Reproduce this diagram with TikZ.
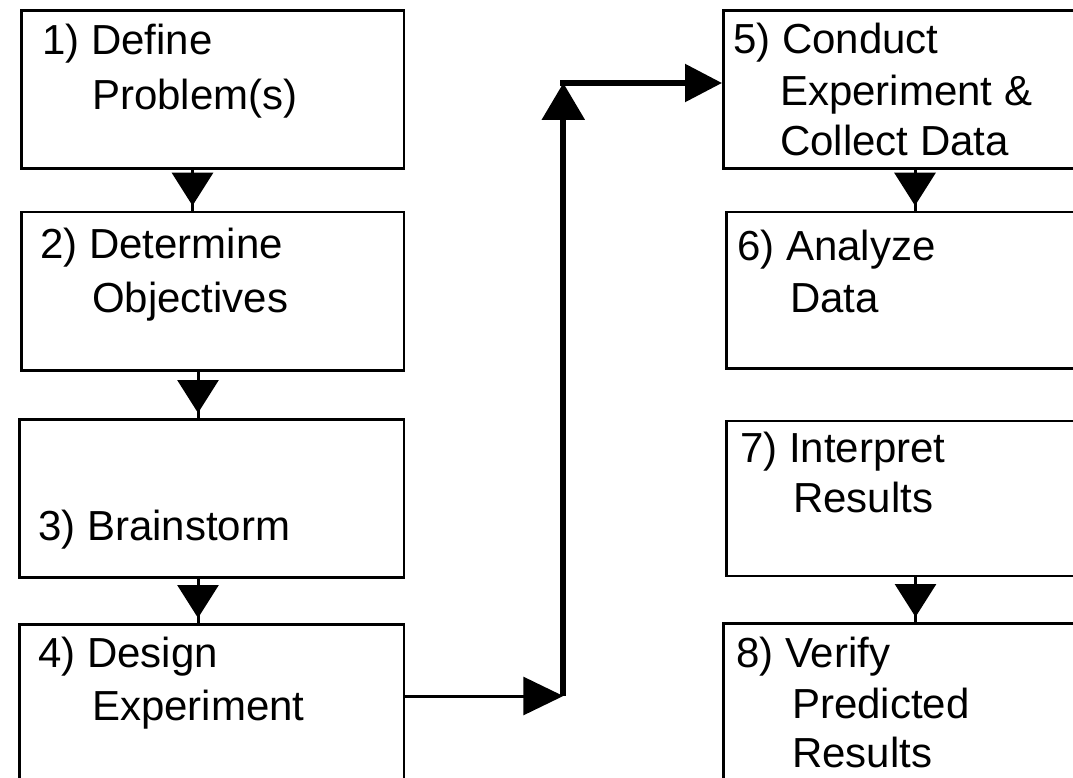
\documentclass[tikz,border=0pt]{standalone}
\usepackage{fontspec}
\setmainfont{Liberation Sans}
\usetikzlibrary{arrows.meta}
\tikzset{
  box/.style={draw, line width=2.8pt, inner sep=0pt, anchor=north west},
  txt/.style={anchor=base west, inner sep=0pt, font=\fontsize{42}{50}\selectfont},
  downarr/.style={line width=3pt, -{Triangle[length=33pt,width=41pt]}, shorten >=5pt,
                  postaction={draw, -, shorten >=0pt}},
}
\begin{document}
\begin{tikzpicture}[x=1pt,y=-1pt]
\clip (0,0) rectangle (1073,778);
\useasboundingbox (0,0) rectangle (1073,778);
\fill[white] (0,0) rectangle (1073,778);
% left column boxes
\node[box, minimum width=382.8pt, minimum height=157.5pt] (b1) at (19.7,9.5) {};
\node[box, minimum width=382.5pt, minimum height=158.3pt] (b2) at (20,210.7) {};
\node[box, minimum width=384.5pt, minimum height=158pt] (b3) at (18,418) {};
\node[box, minimum width=384.5pt, minimum height=200pt] (b4) at (18,623) {};
% right column boxes
\node[box, minimum width=400pt, minimum height=157.8pt] (b5) at (722,9.5) {};
\node[box, minimum width=400pt, minimum height=156.3pt] (b6) at (724.7,210.7) {};
\node[box, minimum width=400pt, minimum height=155pt] (b7) at (725,419.5) {};
\node[box, minimum width=400pt, minimum height=200pt] (b8) at (722,622) {};
% texts
\node[txt] (t1a) at (42,55) {1) Define};
\node[txt] (t1b) at (92,110) {Problem(s)};
\node[txt] (t2a) at (40,258) {2) Determine};
\node[txt] (t2b) at (92,312) {Objectives};
\node[txt] (t3a) at (38,540) {3) Brainstorm};
\node[txt] (t4a) at (38,667) {4) Design};
\node[txt] (t4b) at (92,720) {Experiment};
\node[txt] (t5a) at (733,54) {5) Conduct};
\node[txt] (t5b) at (780,106) {Experiment \&};
\node[txt] (t5c) at (780,156) {Collect Data};
\node[txt] (t6a) at (737,260) {6) Analyze};
\node[txt] (t6b) at (790,312) {Data};
\node[txt] (t7a) at (740,462) {7) Interpret};
\node[txt] (t7b) at (793,512) {Results};
\node[txt] (t8a) at (736,667) {8) Verify};
\node[txt] (t8b) at (792,718) {Predicted};
\node[txt] (t8c) at (792,767) {Results};
% vertical arrows
\coordinate (x12) at (192.5,0);
\coordinate (x23) at (198,0);
\coordinate (x34) at (198,0);
\coordinate (x56) at (915,0);
\coordinate (x78) at (915.5,0);
\draw[downarr] (b1.south -| x12) -- (b2.north -| x12);
\draw[downarr] (b2.south -| x23) -- (b3.north -| x23);
\draw[downarr] (b3.south -| x34) -- (b4.north -| x34);
\draw[downarr] (b5.south -| x56) -- (b6.north -| x56);
\draw[downarr] (b7.south -| x78) -- (b8.north -| x78);
% loop connector from 4 to 5
\coordinate (c1) at (563.3,696);
\coordinate (c2) at (563.3,83);
\draw[line width=3pt, -{Triangle[length=40pt,width=38pt]}] (c1 -| b4.east) -- (c1);
\draw[line width=6pt, -{Triangle[length=37pt,width=42pt]}] (c1) -- ([yshift=0pt]c2);
\draw[line width=5.5pt, -{Triangle[length=37pt,width=37pt]}] ([xshift=-3pt]c2) -- (c2 -| b5.west);
\end{tikzpicture}
\end{document}
